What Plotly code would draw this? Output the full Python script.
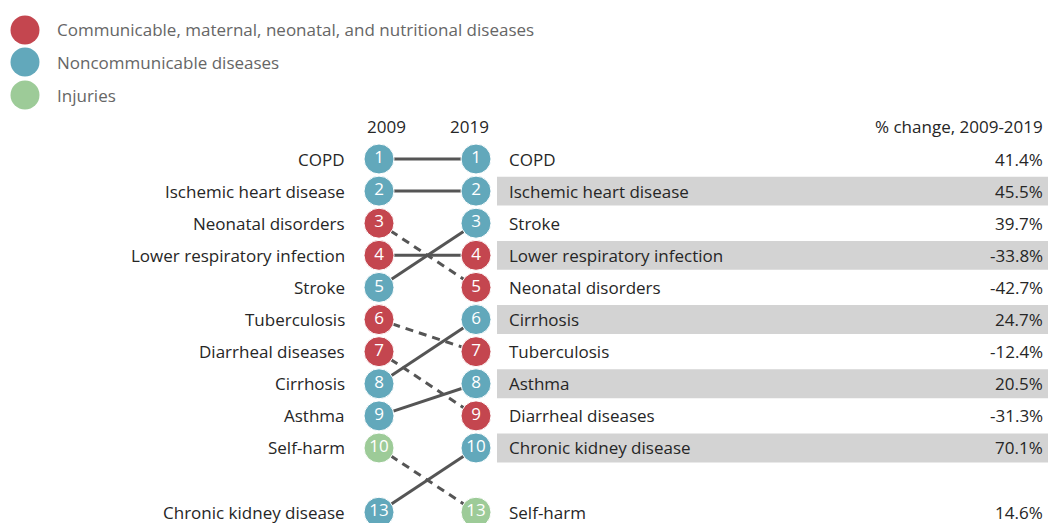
import plotly.graph_objects as go

# ---------------- data ----------------
causes = ["COPD", "Ischemic heart disease", "Neonatal disorders", "Lower respiratory infection",
          "Stroke", "Tuberculosis", "Diarrheal diseases", "Cirrhosis", "Asthma", "Self-harm",
          "Chronic kidney disease"]
groups = ["N", "N", "C", "C", "N", "C", "C", "N", "N", "I", "N"]
rank_2009 = [1, 2, 3, 4, 5, 6, 7, 8, 9, 10, 13]
rank_2019 = [1, 2, 5, 4, 3, 7, 9, 6, 8, 13, 10]
pct_change = [41.4, 45.5, -42.7, -33.8, 39.7, -12.4, -31.3, 24.7, 20.5, 14.6, 70.1]

group_names = {"C": "Communicable, maternal, neonatal, and nutritional diseases",
               "N": "Noncommunicable diseases",
               "I": "Injuries"}
group_order = ["C", "N", "I"]
group_colors = {"C": "#C4464F", "N": "#62A8BB", "I": "#9DCB98"}

year_labels = ["2009", "2019"]
change_header = "% change, 2009-2019"

# ---------------- layout constants ----------------
W, H = 1048, 523
X2009, X2019 = 379, 476
ROW_PX = 32.11
ROW1_PX = 159


def display_row(rank):
    # ranks beyond 10 are shown after one blank gap row
    return rank if rank <= 10 else rank - 1


y_top = 1 - ROW1_PX / ROW_PX
y_bot = 1 + (H - ROW1_PX) / ROW_PX

LINE_COLOR = "#555555"
TEXT_COLOR = "#262626"
FONT = "Open Sans, Segoe UI, sans-serif"
FS = 17

fig = go.Figure()

# connecting lines (solid = same or improved rank, dashed = worse)
for dash in ["solid", "dash"]:
    xs, ys = [], []
    for r0, r1 in zip(rank_2009, rank_2019):
        worse = r1 > r0
        if (dash == "dash") == worse:
            xs += [X2009, X2019, None]
            ys += [display_row(r0), display_row(r1), None]
    fig.add_trace(go.Scatter(x=xs, y=ys, mode="lines",
                             line=dict(color=LINE_COLOR, width=3, dash="solid" if dash == "solid" else "8px,6px"),
                             hoverinfo="skip", showlegend=False))

# circles
for xpos, ranks in [(X2009, rank_2009), (X2019, rank_2019)]:
    fig.add_trace(go.Scatter(
        x=[xpos] * len(ranks), y=[display_row(r) for r in ranks],
        mode="markers+text", text=[str(r) for r in ranks], textposition="middle center",
        textfont=dict(color="white", size=17, family=FONT),
        marker=dict(size=30, color=[group_colors[g] for g in groups],
                    line=dict(color="white", width=1)),
        hoverinfo="skip", showlegend=False))

# legend
legend_rows = [-3.02, -2.02, -0.99]
fig.add_trace(go.Scatter(
    x=[25] * 3, y=legend_rows, mode="markers",
    marker=dict(size=29, color=[group_colors[g] for g in group_order]),
    hoverinfo="skip", showlegend=False))

annotations = []
shapes = []
for g, yr in zip(group_order, legend_rows):
    annotations.append(dict(x=55, y=yr, text=group_names[g], xanchor="left", yanchor="middle",
                            showarrow=False, font=dict(size=FS, color="#666666", family=FONT)))

# headers
annotations.append(dict(x=386, y=0, text=year_labels[0], showarrow=False, xanchor="center",
                        yanchor="middle", font=dict(size=FS, color=TEXT_COLOR, family=FONT)))
annotations.append(dict(x=469, y=0, text=year_labels[1], showarrow=False, xanchor="center",
                        yanchor="middle", font=dict(size=FS, color=TEXT_COLOR, family=FONT)))
annotations.append(dict(x=1045, y=0, text=change_header, showarrow=False, xanchor="right",
                        yanchor="middle", font=dict(size=FS, color=TEXT_COLOR, family=FONT)))

# left labels (2009 order)
for c, r in zip(causes, rank_2009):
    annotations.append(dict(x=347, y=display_row(r), text=c, showarrow=False, xanchor="right",
                            yanchor="middle", font=dict(size=FS, color=TEXT_COLOR, family=FONT)))

# right table (2019 order)
order_2019 = sorted(range(len(causes)), key=lambda i: rank_2019[i])
for k, i in enumerate(order_2019):
    row = display_row(rank_2019[i])
    if k % 2 == 1:
        shapes.append(dict(type="rect", xref="x", yref="y", x0=497, x1=W + 2,
                           y0=row - 0.45, y1=row + 0.45, fillcolor="#D3D3D3",
                           line=dict(width=0), layer="below"))
    annotations.append(dict(x=507, y=row, text=causes[i], showarrow=False, xanchor="left",
                            yanchor="middle", font=dict(size=FS, color=TEXT_COLOR, family=FONT)))
    annotations.append(dict(x=1045, y=row, text=f"{pct_change[i]:.1f}%", showarrow=False,
                            xanchor="right", yanchor="middle",
                            font=dict(size=FS, color=TEXT_COLOR, family=FONT)))

fig.update_layout(
    width=W, height=H, margin=dict(l=0, r=0, t=0, b=0),
    paper_bgcolor="white", plot_bgcolor="white",
    xaxis=dict(range=[0, W], visible=False, fixedrange=True),
    yaxis=dict(range=[y_bot, y_top], visible=False, fixedrange=True),
    annotations=annotations, shapes=shapes, showlegend=False,
    font=dict(family=FONT),
)

fig.write_html("out.html", config={"displayModeBar": False},
               post_script="document.body.style.margin='0';document.body.style.overflow='hidden';")
